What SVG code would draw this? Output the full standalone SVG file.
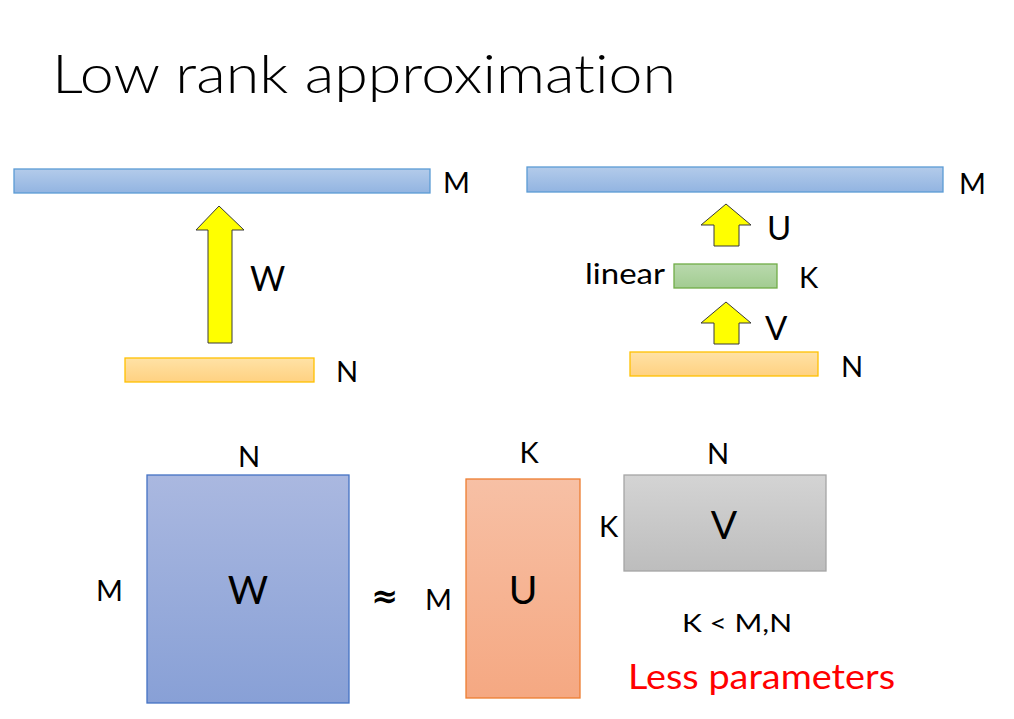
<svg xmlns="http://www.w3.org/2000/svg" width="1014" height="719" viewBox="0 0 1014 719">
<defs>
<linearGradient id="gBlue" x1="0" y1="0" x2="0" y2="1"><stop offset="0" stop-color="#b3cbea"/><stop offset="1" stop-color="#92b4e1"/></linearGradient>
<linearGradient id="gOrange" x1="0" y1="0" x2="0" y2="1"><stop offset="0" stop-color="#ffe2a6"/><stop offset="1" stop-color="#ffd181"/></linearGradient>
<linearGradient id="gGreen" x1="0" y1="0" x2="0" y2="1"><stop offset="0" stop-color="#b9d9ad"/><stop offset="1" stop-color="#a2cc91"/></linearGradient>
<linearGradient id="gW" x1="0" y1="0" x2="0" y2="1"><stop offset="0" stop-color="#aab8e0"/><stop offset="1" stop-color="#88a0d6"/></linearGradient>
<linearGradient id="gU" x1="0" y1="0" x2="0" y2="1"><stop offset="0" stop-color="#f7c0a5"/><stop offset="1" stop-color="#f5a882"/></linearGradient>
<linearGradient id="gV" x1="0" y1="0" x2="0" y2="1"><stop offset="0" stop-color="#d4d4d4"/><stop offset="1" stop-color="#bdbdbd"/></linearGradient>
</defs>
<style>
text{font-family:Lato,"Open Sans","Liberation Sans",sans-serif;fill:#000;font-variant-ligatures:none}
.lbl{font-size:29px}
.bar-b{fill:url(#gBlue);stroke:#5b9bd5;stroke-width:1.3}
.bar-o{fill:url(#gOrange);stroke:#ffc000;stroke-width:1.3}
.bar-g{fill:url(#gGreen);stroke:#70ad47;stroke-width:1.3}
.arrow{fill:#ffff00;stroke:#3a3a3a;stroke-width:1}
</style>
<rect width="1014" height="719" fill="#fff"/>
<text x="52" y="93" font-size="54" textLength="624" lengthAdjust="spacingAndGlyphs" style="font-weight:300">Low rank approximation</text>

<g id="left-output">
<rect class="bar-b" x="14" y="169" width="416" height="24"/>
<text class="lbl" x="443" y="193">M</text>
</g>
<g id="left-input">
<rect class="bar-o" x="125" y="358" width="189" height="24"/>
<text class="lbl" x="336" y="382">N</text>
</g>
<g id="right-output">
<rect class="bar-b" x="527" y="167" width="416" height="25"/>
<text class="lbl" x="959" y="194">M</text>
</g>
<g id="right-linear">
<rect class="bar-g" x="674" y="264" width="103" height="24"/>
<text x="585" y="284" font-size="28" textLength="80" lengthAdjust="spacingAndGlyphs">linear</text>
<text class="lbl" x="799" y="288">K</text>
</g>
<g id="right-input">
<rect class="bar-o" x="630" y="352" width="188" height="24"/>
<text class="lbl" x="841" y="377">N</text>
</g>

<g id="connectors">
<polygon class="arrow" points="208,343 208,230 196,230 219,206 244,230 232,230 232,343"/>
<text x="250" y="291" font-size="34">W</text>
<polygon class="arrow" points="714,246 714,225 701,225 726,204 751,225 739,225 739,246"/>
<text x="767" y="240" font-size="33">U</text>
<polygon class="arrow" points="714,344 714,323 701,323 726,302 751,323 739,323 739,344"/>
<text x="765" y="340" font-size="33">V</text>
</g>

<g id="matrix-W">
<rect x="147" y="475" width="202" height="228" fill="url(#gW)" stroke="#4472c4" stroke-width="1.3"/>
<text x="248" y="604" font-size="39" text-anchor="middle">W</text>
<text class="lbl" x="249" y="467" text-anchor="middle">N</text>
<text class="lbl" x="96" y="601">M</text>
</g>
<text x="385" y="607" font-size="32" text-anchor="middle" style="font-family:'DejaVu Sans',sans-serif;font-weight:700">≈</text>
<g id="matrix-U">
<rect x="466" y="479" width="114" height="219" fill="url(#gU)" stroke="#ed7d31" stroke-width="1.3"/>
<text x="523" y="604" font-size="39" text-anchor="middle">U</text>
<text class="lbl" x="529" y="463" text-anchor="middle">K</text>
<text class="lbl" x="425" y="610">M</text>
</g>
<g id="matrix-V">
<rect x="624" y="475" width="202" height="96" fill="url(#gV)" stroke="#a5a5a5" stroke-width="1.3"/>
<text x="724" y="539" font-size="39" text-anchor="middle">V</text>
<text class="lbl" x="718" y="464" text-anchor="middle">N</text>
<text class="lbl" x="599" y="537">K</text>
</g>
<text x="682" y="632" font-size="25" textLength="110" lengthAdjust="spacingAndGlyphs">K &lt; M,N</text>
<text x="628" y="689" font-size="34" textLength="267" lengthAdjust="spacingAndGlyphs" style="fill:#ff0000">Less parameters</text>
</svg>
